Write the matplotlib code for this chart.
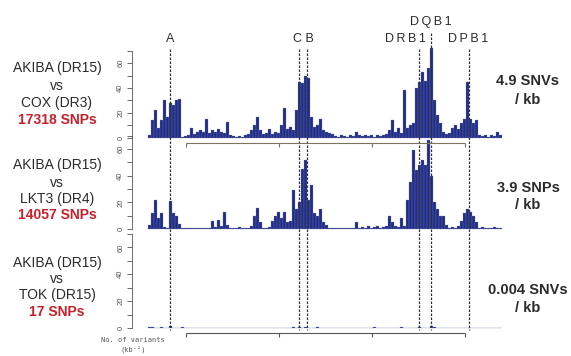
import numpy as np
import matplotlib
matplotlib.use("Agg")
import matplotlib.pyplot as plt

plt.rcParams["font.family"] = ["Liberation Sans", "DejaVu Sans"]

# ---- data: variant density (variants per kb) in 30 kb bins across the HLA region ----
BIN_KB = 30
cox = [2, 14, 22, 8, 14, 30, 17, 28, 26, 30, 31,
       1, 1.5, 2, 8, 3, 5, 6, 5, 15,
       4, 6, 5, 7, 5, 4, 13, 2, 1.5, 1,
       1.5, 1, 2, 3, 6, 10, 17, 6, 3, 4,
       7, 3, 5, 4, 10, 24, 7, 9, 6, 22,
       45, 44, 50, 48, 17, 9, 10, 15, 6, 5,
       4, 3, 1.5, 1, 2, 1.5, 1, 2, 1.5, 5,
       2, 1.5, 2, 1.5, 2, 1, 2, 1.5, 2, 3,
       6, 14, 5, 8, 4, 38, 8, 10, 12, 40,
       45, 53, 46, 56, 72, 30, 18, 12, 5, 3,
       4, 8, 10, 7, 12, 15, 45, 15, 12, 14,
       2, 1.5, 2, 1, 2, 1.5, 5, 2]
lkt3 = [3, 12, 22, 8, 12, 1.5, 1, 21, 12, 10, 4,
        0.8, 0.5, 1, 0.5, 0.8, 0.5, 1, 0.5, 0.8, 1,
        6, 1.5, 7, 2, 13, 3, 1, 0.5, 1, 1.5,
        1, 0.5, 1, 2, 10, 16, 5, 1, 1, 1.5,
        6, 10, 13, 8, 13, 5, 6, 29, 15, 20,
        45, 52, 22, 33, 12, 10, 15, 5, 3, 1,
        0.5, 1, 0.5, 1, 0.8, 0.5, 1, 0.8, 5, 1,
        1.5, 1, 2, 1, 1.5, 2, 1, 1.5, 2, 10,
        5, 2, 1.5, 8, 2, 22, 35, 59, 44, 48,
        52, 48, 67, 40, 20, 15, 10, 10, 3, 1,
        1.5, 1, 2, 6, 12, 15, 13, 10, 5, 1,
        1.5, 1, 0.5, 1, 1.5, 1, 0.5]
# TOK: only a handful of bins carry any variant
tok_bins = [0, 1, 4, 7, 11, 48, 50, 52, 56, 75, 84, 90, 94, 95]
tok_vals = [0.6, 0.5, 0.6, 1.2, 0.8, 0.6, 0.9, 1.0, 0.5, 0.6, 0.5, 0.8, 1.2, 0.9]

genes = ["A", "C", "B", "DRB1", "DQB1", "DPB1"]
gene_kb = [220, 1510, 1590, 2710, 2830, 3210]
gene_labels = ["A", "C B", "DRB1", "DQB1", "DPB1"]
gene_label_kb = [220, 1550, 2570, 2830, 3200]

bracket_kb = [380, 3170]
bracket_ticks_kb = [1310, 2240]

left_lines = [["AKIBA (DR15)", "vs", "COX (DR3)", "17318 SNPs"],
              ["AKIBA (DR15)", "vs", "LKT3 (DR4)", "14057 SNPs"],
              ["AKIBA (DR15)", "vs", "TOK (DR15)", "17 SNPs"]]
right_lines = [["4.9 SNVs", "/ kb"], ["3.9 SNPs", "/ kb"], ["0.004 SNVs", "/ kb"]]

# ---- layout (pixels) ----
W, H = 571, 356
NAVY = "#1f2d88"
RED = "#c8202a"
TXT = "#2b2b2b"
AX_L, AX_R = 132, 505
XLIM = (-160, 3570)
panels = [(50.5, 138), (135.6, 229), (234, 328)]  # (top, bottom) in px


def frac_box(top, bottom):
    return [AX_L / W, (H - bottom) / H, (AX_R - AX_L) / W, (bottom - top) / H]


fig = plt.figure(figsize=(W / 100, H / 100), dpi=100)
fig.patch.set_facecolor("white")

n = len(cox)
centers = np.arange(n) * BIN_KB + BIN_KB / 2
tok = np.zeros(n)
tok[tok_bins] = tok_vals
series = [cox, lkt3, tok]

for (top, bottom), vals in zip(panels, series):
    ax = fig.add_axes(frac_box(top, bottom))
    ax.patch.set_alpha(0)
    ax.bar(centers, vals, width=BIN_KB, color=NAVY, edgecolor="#7f86b0",
           linewidth=0.2, clip_on=False)
    ax.set_xlim(XLIM)
    ax.set_ylim(0, 70)
    for s in ["top", "right", "bottom"]:
        ax.spines[s].set_visible(False)
    ax.spines["left"].set_color("#555555")
    ax.spines["left"].set_linewidth(0.6)
    ax.set_xticks([])
    ax.set_yticks([0, 20, 40, 60])
    ax.set_yticks([10, 30, 50, 70], minor=True)
    ax.tick_params(axis="y", which="both", length=3.5, width=0.6, color="#555555",
                   labelsize=5.5, labelcolor="#555555", pad=2)
    for lab in ax.get_yticklabels():
        lab.set_rotation(90)
        lab.set_va("center")
    if vals is tok:
        ax.hlines(0, 0, n * BIN_KB, color=NAVY, lw=0.8)

# ---- overlay in pixel y coordinates for gene lines, brackets, labels ----
ov = fig.add_axes([AX_L / W, 0, (AX_R - AX_L) / W, 1])
ov.set_xlim(XLIM)
ov.set_ylim(H, 0)
ov.axis("off")
ov.patch.set_alpha(0)

for g, kb in zip(genes, gene_kb):
    y0 = 33 if g == "DQB1" else 49
    ov.vlines(kb, y0, 330, colors="#333333", linestyles=(0, (2, 1.2)), lw=0.9)

for lab, kb in zip(gene_labels, gene_label_kb):
    y = 22 if lab == "DQB1" else 39
    ov.text(kb, y, "\u2009".join(lab) if lab != "C B" else "C B", ha="center", va="center",
            fontsize=9, color=TXT)

for yb, col in [(143, "#77735f"), (333, "#555555")]:
    ov.hlines(yb, bracket_kb[0], bracket_kb[1], colors=col, lw=0.8)
    ov.vlines(bracket_kb + bracket_ticks_kb, yb, yb + 4, colors=col, lw=0.8)

# ---- side labels ----
left_y = [[68, 86, 103, 120], [165, 183, 199, 215], [263, 279, 295, 312]]
right_y = [[81, 100], [188, 205], [290, 308]]
for lines, ys in zip(left_lines, left_y):
    for i, (t, y) in enumerate(zip(lines, ys)):
        last = i == len(lines) - 1
        fig.text(57 / W, 1 - y / H, t, ha="center", va="center", fontsize=10,
                 color=RED if last else TXT, fontweight="bold" if last else "normal")
for lines, ys in zip(right_lines, right_y):
    for t, y in zip(lines, ys):
        fig.text(528 / W, 1 - y / H, t, ha="center", va="center", fontsize=10.5,
                 color=TXT, fontweight="bold")

fig.text(133 / W, 1 - 340 / H, "No. of variants", ha="center", va="center",
         fontsize=5, color="#555555", family="DejaVu Sans Mono")
fig.text(133 / W, 1 - 349.5 / H, "(kb\u207b\u00b9)", ha="center", va="center",
         fontsize=5, color="#555555", family="DejaVu Sans Mono")

fig.savefig("out.png", dpi=100)
